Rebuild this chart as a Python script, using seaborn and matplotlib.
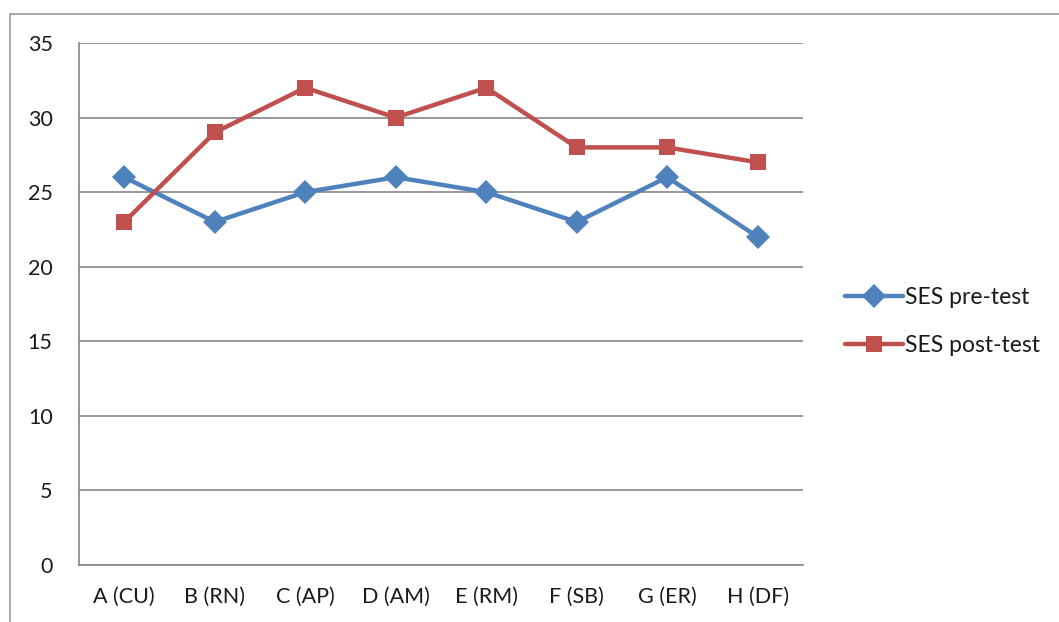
import numpy as np
import pandas as pd
import matplotlib
matplotlib.use("Agg")
import matplotlib.pyplot as plt
import seaborn as sns
from matplotlib.patches import Rectangle

# data
subjects = ["A (CU)", "B (RN)", "C (AP)", "D (AM)", "E (RM)", "F (SB)", "G (ER)", "H (DF)"]
pre_test = [26, 23, 25, 26, 25, 23, 26, 22]
post_test = [23, 29, 32, 30, 32, 28, 28, 27]
series_names = ["SES pre-test", "SES post-test"]
colors = ["#4F81BD", "#C0504D"]

df = pd.DataFrame({
    "subject": subjects * 2,
    "pos": list(range(len(subjects))) * 2,
    "score": pre_test + post_test,
    "series": [series_names[0]] * len(subjects) + [series_names[1]] * len(subjects),
})

sns.set_style("white")
plt.rcParams["font.family"] = ["Lato", "DejaVu Sans"]
plt.rcParams["text.color"] = "#1a1a1a"

fig = plt.figure(figsize=(10.59, 6.22), dpi=100)
ax = fig.add_axes([79 / 1059, 1 - 565 / 622, 724 / 1059, 522 / 622])

# outer chart frame
fig.patches.append(Rectangle((10 / 1059, -0.1), 1.2, (622 - 14) / 622 + 0.1,
                             transform=fig.transFigure, fill=False,
                             edgecolor="#9a9a9a", linewidth=1.2))

sns.lineplot(data=df, x="pos", y="score", hue="series", style="series",
             palette=colors, markers=["D", "s"], dashes=False,
             linewidth=3.2, markersize=12, markeredgewidth=0, ax=ax)

ax.set_xlim(-0.5, 7.5)
ax.set_ylim(0, 35)
ax.set_yticks(np.arange(0, 36, 5))
ax.set_xticks(np.arange(-0.5, 8, 1))
ax.set_xticklabels([])
ax.set_xticks(np.arange(8), minor=True)
ax.set_xticklabels(subjects, minor=True)
ax.tick_params(axis="x", which="major", length=6, color="#868686", width=1.2, direction="out")
ax.tick_params(axis="x", which="minor", length=0, pad=16, labelsize=15.5, labelcolor="#1a1a1a")
ax.tick_params(axis="y", length=7, color="#868686", width=1.2, direction="out", pad=12,
               labelsize=15.5, labelcolor="#1a1a1a")
ax.yaxis.grid(True, color="#868686", linewidth=1.2)
ax.set_axisbelow(True)
for s in ["top", "right"]:
    ax.spines[s].set_visible(False)
for s in ["left", "bottom"]:
    ax.spines[s].set_color("#868686")
    ax.spines[s].set_linewidth(1.2)
ax.set_xlabel("")
ax.set_ylabel("")

ax.legend(title=None, frameon=False, loc="center left",
          bbox_to_anchor=(1.03, 0.466), fontsize=16.5, handlelength=2.5,
          handletextpad=0.1, labelspacing=1.2)

fig.savefig("out.png", dpi=100)
